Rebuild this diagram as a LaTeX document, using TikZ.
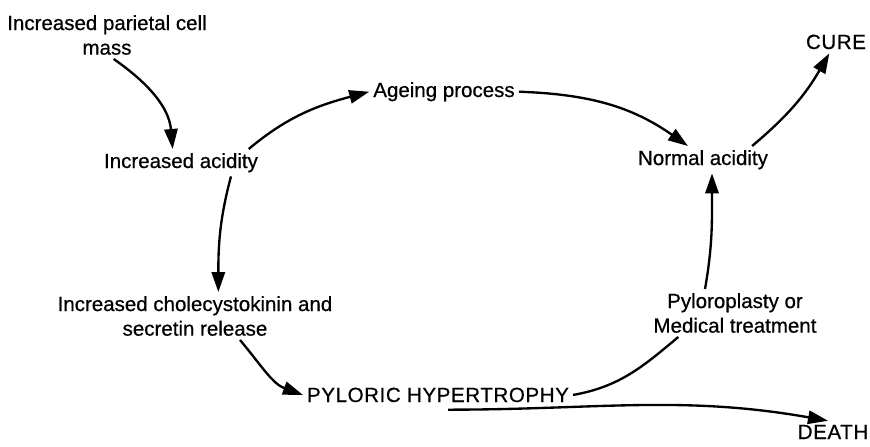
\documentclass[tikz,border=0pt]{standalone}
\usepackage{fontspec}
\setsansfont{Liberation Sans}[FakeBold=0.6]
\usetikzlibrary{arrows.meta, positioning}

\tikzset{
	stage/.style={align=center},
	caps/.style={font=\sffamily\fontsize{17.5}{21}\selectfont\addfontfeatures{LetterSpace=3}},
	link/.style={->, >={Triangle[length=6mm, width=4mm]}, line width=2pt},
	plain/.style={line width=2pt},
}

\begin{document}
\begin{tikzpicture}[x=0.03cm, y=-0.03cm, font=\sffamily\fontsize{17.5}{21}\selectfont]
	\useasboundingbox (0,0) rectangle (870,446);
	
	\node[stage] (M) at (107,35) 						{Increased parietal cell\\mass};
	\node[stage, anchor=base] (IA) at (181,168) 		{Increased acidity};
	\node[stage, anchor=base] (AP) at (444,97) 			{Ageing process};
	\node[stage, anchor=base] (NA) at (703,165) 		{Normal acidity};
	\node[stage, caps, anchor=base] (C) at (836,49) 	{CURE};
	
	\node[stage] (CK) at (195,316) 						{Increased cholecystokinin and\\secretin release};
	\node[stage, caps, anchor=base] (PH) at (438,402) 	{PYLORIC HYPERTROPHY};
	\node[stage] (PT) at (735,313) 						{Pyloroplasty or\\Medical treatment};
	\node[stage, caps, anchor=base] (D) at (833,439) 	{DEATH};
	
	\draw[link] ([xshift=.2cm]M.south) to[out=-35, in=95] ([xshift=-.25cm]IA.north);
	\draw[link] ([xshift=-.4cm]IA.north east) to[out=40, in=195] (AP.west);
	\draw[link] (AP.east) to[out=-2, in=145] ([xshift=-.45cm]NA.north);
	\draw[link] ([xshift=-.6cm]NA.north east) to[out=40, in=-120] ([xshift=-.2cm]C.south);
	\draw[link] ([xshift=1.5cm]IA.south) to[out=-105, in=90] ([xshift=.7cm]CK.north);
	\draw[link] ([xshift=1.35cm]CK.south) to[out=-50, in=160] (PH.west);
	\draw[plain] (PH.east) to[out=10, in=-140] ([xshift=-1.7cm]PT.south);
	\draw[link] ([xshift=-.9cm]PT.north) to[out=80, in=-90] ([xshift=.27cm]NA.south);
	\draw[link] ([xshift=.3cm, yshift=-.1cm]PH.south) to[out=0, in=170] ([xshift=-.15cm]D.north);
\end{tikzpicture}
\end{document}
